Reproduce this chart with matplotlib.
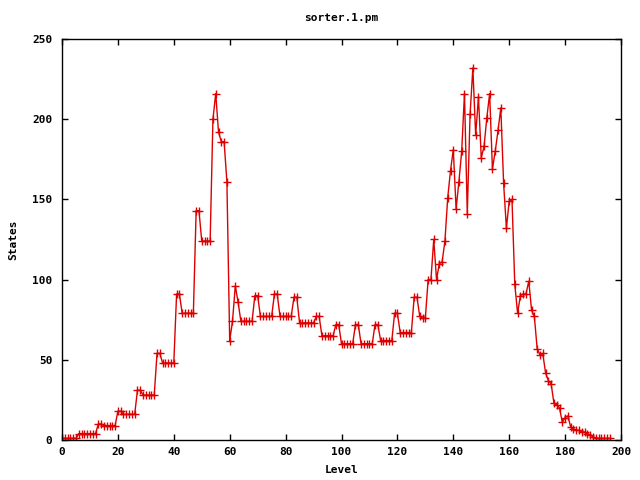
import numpy as np
import matplotlib
matplotlib.use("Agg")
import matplotlib.pyplot as plt

# states per BFS level (levels 0..196)
early = ([1] * 6 + [4] * 7 + [10] * 2 + [9] * 5 + [18] * 2 + [16] * 5
         + [31] * 2 + [28] * 5 + [54] * 2 + [48] * 5 + [91] * 2 + [79] * 5
         + [143] * 2 + [124] * 4)
first_peak = [200, 216, 192, 186, 186, 161, 62, 74, 96, 86]
plateau = ([74] * 5 + [90] * 2 + [77] * 5 + [91] * 2 + [77] * 5 + [89] * 2
           + [73] * 6 + [77] * 2 + [65] * 5 + [72] * 2 + [60] * 5 + [72] * 2
           + [60] * 5 + [72] * 2 + [62] * 5 + [79] * 2 + [67] * 5 + [89] * 2)
second_peak = [77, 76, 76, 100, 100, 125, 100, 110, 111, 124,
               151, 168, 181, 144, 161, 180, 216, 141, 203, 232,
               190, 214, 176, 183, 201, 216, 169, 180, 193, 207,
               160, 132, 149, 150, 97, 79, 90, 91, 91, 99,
               81, 77, 57, 53, 54, 42, 37, 35, 23, 22,
               20, 11, 14, 15, 8, 7, 6, 6, 5, 5,
               4, 3, 2, 1, 1, 1, 1, 1, 1]

states = np.array(early + first_peak + plateau + second_peak)
levels = np.arange(len(states))

x_ticks = [0, 20, 40, 60, 80, 100, 120, 140, 160, 180, 200]
y_ticks = [0, 50, 100, 150, 200, 250]

plt.rcParams['font.family'] = ['DejaVu Sans Mono']
plt.rcParams['font.weight'] = 'bold'
plt.rcParams['font.size'] = 8

fig = plt.figure(figsize=(6.4, 4.8), dpi=100)
ax = fig.add_axes([62 / 640, 1 - 440 / 480, 559 / 640, 401 / 480])

ax.plot(levels, states, color='#dd0000', lw=1, marker='+', ms=6, mew=1)

ax.set_xlim(0, 200)
ax.set_ylim(0, 250)
ax.set_xticks(x_ticks)
ax.set_yticks(y_ticks)
ax.tick_params(direction='in', length=4.5, width=1, top=True, right=True,
               labelsize=8)
ax.tick_params(axis='x', pad=5)
ax.tick_params(axis='y', pad=7)
for s in ax.spines.values():
    s.set_linewidth(1)

ax.set_title('sorter.1.pm', fontsize=8, fontweight='bold', pad=13)
ax.set_xlabel('Level', fontsize=8, fontweight='bold', labelpad=6)
ax.set_ylabel('States', fontsize=8, fontweight='bold', labelpad=10)

fig.savefig('out.png', dpi=100)
